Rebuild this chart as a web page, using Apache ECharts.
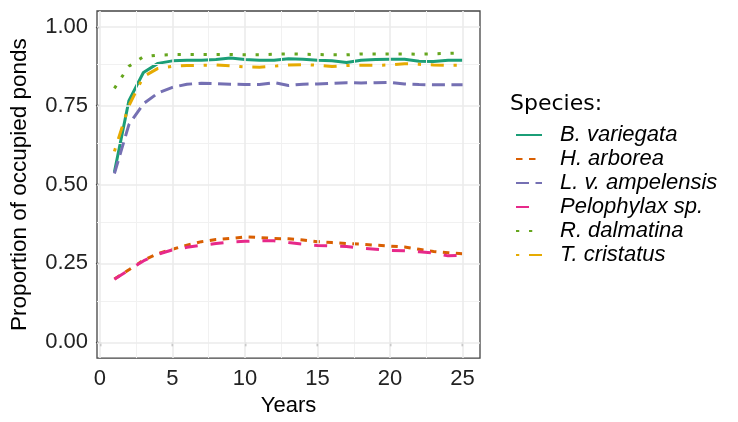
<!DOCTYPE html>
<html>
<head>
<meta charset="utf-8">
<script src="https://cdn.jsdelivr.net/npm/echarts@6/dist/echarts.min.js"></script>
<style>
  html, body { margin: 0; padding: 0; background: #fff; }
  #chart { width: 738px; height: 422px; }
</style>
</head>
<body>
<div id="chart"></div>
<script>
const years = [1, 2, 3, 4, 5, 6, 7, 8, 9, 10, 11, 12, 13, 14, 15, 16, 17, 18, 19, 20, 21, 22, 23, 24, 25];

const species = ['B. variegata', 'H. arborea', 'L. v. ampelensis', 'Pelophylax sp.', 'R. dalmatina', 'T. cristatus'];

const bVariegata = [0.54, 0.766, 0.855, 0.884, 0.892, 0.894, 0.894, 0.896, 0.901, 0.896, 0.894, 0.894, 0.899, 0.897, 0.894, 0.892, 0.887, 0.894, 0.896, 0.897, 0.897, 0.891, 0.89, 0.894, 0.894];
const hArborea = [0.201, 0.23, 0.26, 0.281, 0.295, 0.308, 0.319, 0.326, 0.329, 0.334, 0.332, 0.329, 0.328, 0.324, 0.319, 0.316, 0.313, 0.311, 0.308, 0.305, 0.302, 0.295, 0.288, 0.284, 0.281];
const lvAmpelensis = [0.535, 0.69, 0.756, 0.79, 0.808, 0.818, 0.821, 0.82, 0.818, 0.817, 0.817, 0.823, 0.814, 0.818, 0.819, 0.821, 0.823, 0.822, 0.823, 0.824, 0.819, 0.817, 0.816, 0.816, 0.816];
const pelophylax = [0.2, 0.229, 0.258, 0.279, 0.293, 0.301, 0.308, 0.313, 0.318, 0.32, 0.322, 0.322, 0.316, 0.311, 0.307, 0.305, 0.304, 0.298, 0.295, 0.291, 0.29, 0.287, 0.283, 0.274, 0.276];
const rDalmatina = [0.805, 0.875, 0.905, 0.91, 0.912, 0.912, 0.912, 0.912, 0.912, 0.911, 0.911, 0.913, 0.914, 0.913, 0.912, 0.911, 0.911, 0.914, 0.914, 0.914, 0.914, 0.913, 0.914, 0.916, 0.917];
const tCristatus = [0.605, 0.75, 0.842, 0.868, 0.875, 0.877, 0.878, 0.879, 0.876, 0.873, 0.872, 0.875, 0.879, 0.88, 0.878, 0.874, 0.877, 0.878, 0.878, 0.879, 0.883, 0.881, 0.879, 0.878, 0.878];

const xTicks = [0, 5, 10, 15, 20, 25];
const xMinor = [2.5, 7.5, 12.5, 17.5, 22.5];
const yTicks = [0, 0.25, 0.5, 0.75, 1];
const yMinor = [0.125, 0.375, 0.625, 0.875];

const colors = ['#1B9E77', '#D95F02', '#7570B3', '#E7298A', '#66A61E', '#E6AB02'];
// ggplot linetypes solid, 22, 42, 44, 13, 1343 scaled by line width
const dashes = ['solid', [6.5, 6.5], [13, 6.5], [13, 13], [3.25, 9.75], [3.25, 9.75, 13, 9.75]];
const values = [bVariegata, hArborea, lvAmpelensis, pelophylax, rDalmatina, tCristatus];

const font = 'Liberation Sans, Arial, sans-serif';

const chart = echarts.init(document.getElementById('chart'));

const gridLines = [];
xMinor.forEach(v => gridLines.push({ xAxis: v, lineStyle: { color: '#F1F1F1', width: 1 } }));
yMinor.forEach(v => gridLines.push({ yAxis: v, lineStyle: { color: '#F1F1F1', width: 1 } }));
xTicks.forEach(v => gridLines.push({ xAxis: v, lineStyle: { color: '#EBEBEB', width: 1.6 } }));
yTicks.forEach(v => gridLines.push({ yAxis: v, lineStyle: { color: '#EBEBEB', width: 1.6 } }));

const series = [{
    name: 'grid',
    type: 'line',
    data: [],
    z: 0,
    silent: true,
    markLine: {
        silent: true,
        symbol: 'none',
        label: { show: false },
        lineStyle: { type: 'solid' },
        animation: false,
        data: gridLines
    }
}];

species.forEach((name, i) => {
    series.push({
        name: name,
        type: 'line',
        data: years.map((y, j) => [y, values[i][j]]),
        symbol: 'none',
        z: 3 + i,
        lineStyle: { color: colors[i], width: 3, type: dashes[i], cap: 'butt' },
        itemStyle: { color: colors[i] }
    });
});

const option = {
    animation: false,
    backgroundColor: '#fff',
    title: {
        text: 'Species:',
        left: 505,
        top: 88,
        textStyle: { fontFamily: 'DejaVu Sans', fontSize: 22, fontWeight: 'normal', color: '#000' }
    },
    legend: {
        data: species,
        orient: 'vertical',
        left: 515,
        top: 124,
        padding: 0,
        itemWidth: 26,
        itemHeight: 14,
        itemGap: 2,
        itemStyle: { opacity: 0 },
        textStyle: { fontFamily: font, fontSize: 22, fontStyle: 'italic', color: '#000', padding: [0, 0, 0, 13] }
    },
    grid: {
        left: 96, top: 11, width: 384, height: 352,
        show: true, borderColor: '#444', borderWidth: 1.3, backgroundColor: '#fff'
    },
    xAxis: {
        type: 'value',
        min: -0.2,
        max: 26.2,
        name: 'Years',
        nameLocation: 'middle',
        nameGap: 34,
        nameTextStyle: { fontFamily: font, fontSize: 22, color: '#000' },
        axisLine: { show: false },
        axisTick: { show: true, length: 4, customValues: xTicks, lineStyle: { color: '#444', width: 1.3 } },
        axisLabel: { customValues: xTicks, fontFamily: font, fontSize: 22, color: '#222', margin: 10 },
        splitLine: { show: false }
    },
    yAxis: {
        type: 'value',
        min: -0.05,
        max: 1.05,
        name: 'Proportion of occupied ponds',
        nameLocation: 'middle',
        nameGap: 66,
        nameTextStyle: { fontFamily: font, fontSize: 22.5, color: '#000' },
        axisLine: { show: false },
        axisTick: { show: true, length: 4, customValues: yTicks, lineStyle: { color: '#444', width: 1.3 } },
        axisLabel: {
            customValues: yTicks,
            formatter: v => v.toFixed(2),
            fontFamily: font, fontSize: 22, color: '#222', margin: 9
        },
        splitLine: { show: false }
    },
    series: series
};

chart.setOption(option);
window.addEventListener('resize', chart.resize);
</script>
</body>
</html>
